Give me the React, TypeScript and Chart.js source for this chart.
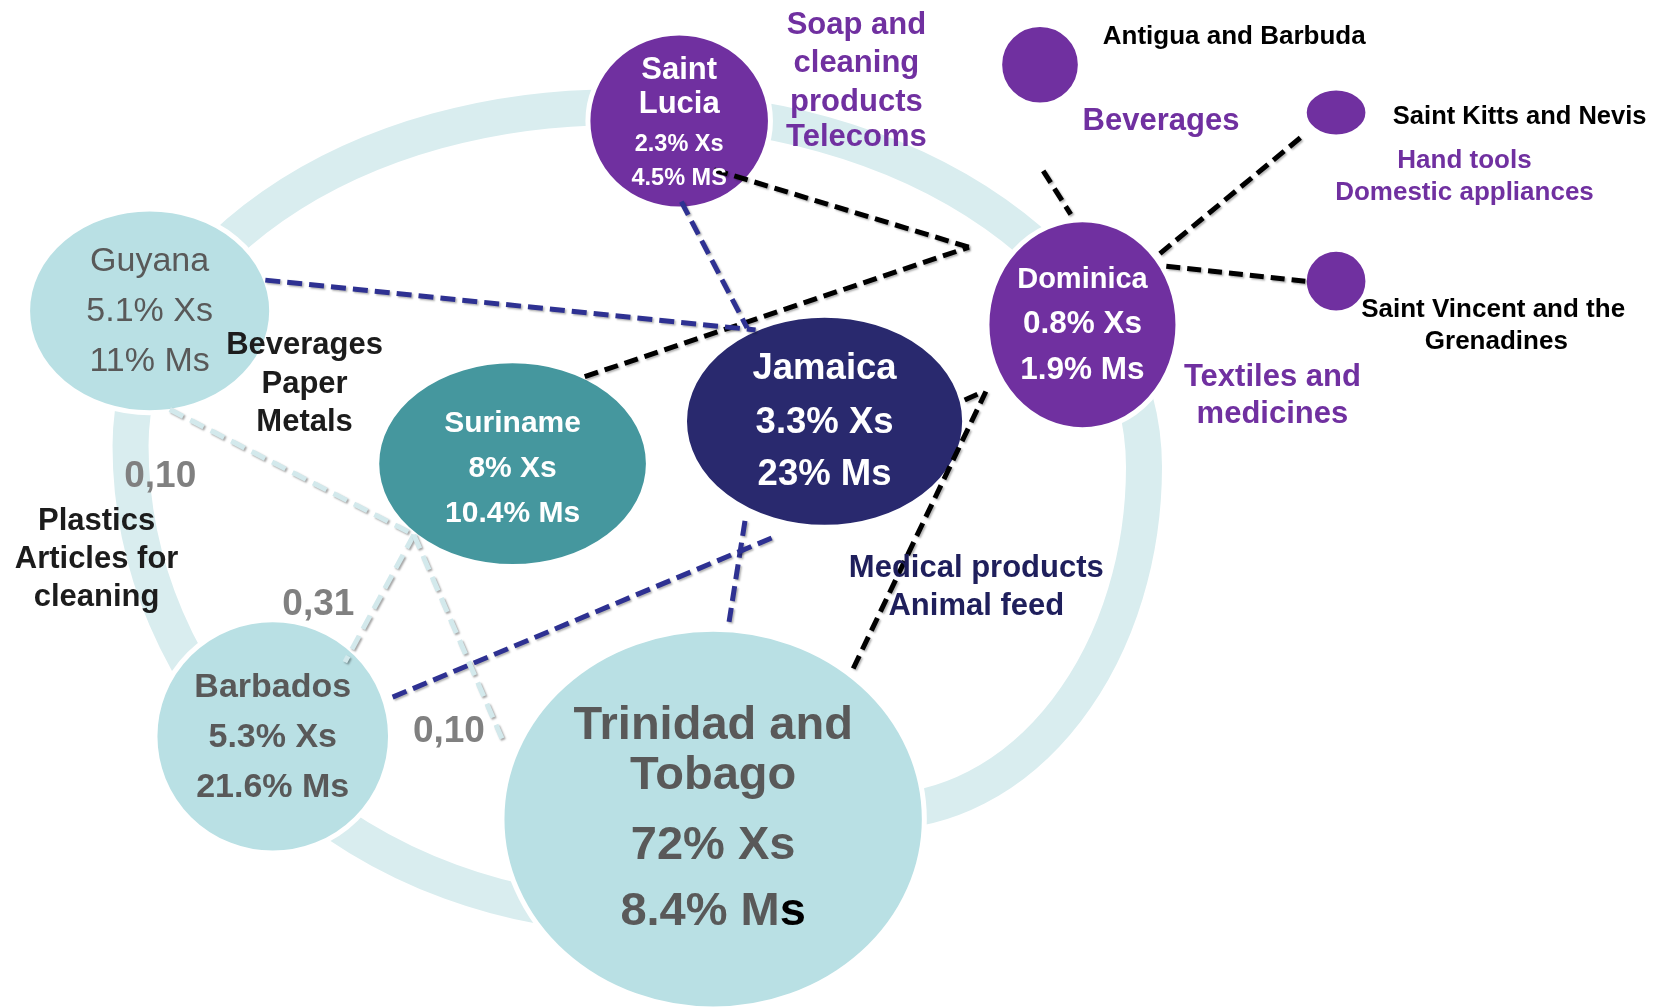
import React, { useEffect, useRef } from 'react';
import { Chart, registerables } from 'chart.js';

Chart.register(...registerables);

// ---------------- data ----------------
const countries = [
  'Saint Lucia', 'Guyana', 'Suriname', 'Jamaica', 'Dominica',
  'Antigua and Barbuda', 'Saint Kitts and Nevis', 'Saint Vincent and the Grenadines',
  'Barbados', 'Trinidad and Tobago',
];
const exportShares = ['2.3% Xs', '5.1% Xs', '8% Xs', '3.3% Xs', '0.8% Xs', '', '', '', '5.3% Xs', '72% Xs'];
const importShares = ['4.5% MS', '11% Ms', '10.4% Ms', '23% Ms', '1.9% Ms', '', '', '', '21.6% Ms', '8.4% Ms'];

const productGroups = [
  ['Beverages', 'Paper', 'Metals'],
  ['Plastics', 'Articles for', 'cleaning'],
  ['Soap and', 'cleaning', 'products', 'Telecoms'],
  ['Beverages'],
  ['Hand tools', 'Domestic appliances'],
  ['Textiles and', 'medicines'],
  ['Medical products', 'Animal feed'],
];
const flowValues = ['0,10', '0,31', '0,10'];

// link end points in diagram space
const blackLinks = [
  [{ x: 673, y: 160 }, { x: 913, y: 233 }],
  [{ x: 551, y: 355 }, { x: 913, y: 233 }],
  [{ x: 983, y: 161 }, { x: 1009, y: 202 }],
  [{ x: 1093, y: 239 }, { x: 1230, y: 126 }],
  [{ x: 1099, y: 251 }, { x: 1230, y: 265 }],
  [{ x: 909, y: 377 }, { x: 927, y: 369 }],
  [{ x: 804, y: 630 }, { x: 929, y: 369 }],
];
const navyLinks = [
  [{ x: 250, y: 264 }, { x: 712, y: 311 }],
  [{ x: 642, y: 190 }, { x: 704, y: 309 }],
  [{ x: 370, y: 657 }, { x: 732, y: 505 }],
  [{ x: 702, y: 491 }, { x: 687, y: 586 }],
];
const lightLinks = [
  [{ x: 160, y: 386 }, { x: 390, y: 504 }],
  [{ x: 390, y: 504 }, { x: 476, y: 703 }],
  [{ x: 390, y: 504 }, { x: 325, y: 624 }],
];

// ---------------- layout ----------------
const PURPLE = '#7030a0';
const NAVY = '#29296e';
const TEAL = '#45979e';
const LIGHT = '#b9e0e4';
const RINGC = '#d9edef';
const GRAY = '#595959';
const FONT = '"Liberation Sans", Arial, sans-serif';
const TEXT_DY = 2;

// background ring, drawn as four elliptical quarters (joins are hidden under the nodes)
const ringQuarters = [
  { cx: 580, cy: 420, rx: 457, ry: 319, a0: Math.PI, a1: Math.PI * 1.5 },
  { cx: 600, cy: 440, rx: 478, ry: 337, a0: Math.PI * 1.5, a1: Math.PI * 2 },
  { cx: 828, cy: 440, rx: 250, ry: 325, a0: 0, a1: Math.PI * 0.5 },
  { cx: 600, cy: 420, rx: 477, ry: 442, a0: Math.PI * 0.5, a1: Math.PI },
];
const RING_WIDTH = 36;

const nodeGeom = [
  { cx: 640, cy: 114, rx: 86, ry: 83 },
  { cx: 141, cy: 293, rx: 115, ry: 96 },
  { cx: 483, cy: 437, rx: 128, ry: 97 },
  { cx: 777, cy: 397, rx: 132, ry: 100 },
  { cx: 1020, cy: 306, rx: 90, ry: 99 },
  { cx: 980, cy: 61, rx: 38, ry: 38 },
  { cx: 1259, cy: 106, rx: 30, ry: 23 },
  { cx: 1259, cy: 265, rx: 30, ry: 30 },
  { cx: 257, cy: 694, rx: 111, ry: 110 },
  { cx: 672, cy: 772, rx: 199, ry: 179 },
];
const nodeStyle = [
  { fill: PURPLE, color: '#fff', weight: 'bold', names: ['Saint', 'Lucia'], ys: [64, 96, 134, 166], sizes: [31, 31, 23.5, 23.5] },
  { fill: LIGHT, color: GRAY, weight: 'normal', names: ['Guyana'], ys: [245, 292, 339], sizes: [34, 34, 34] },
  { fill: TEAL, color: '#fff', weight: 'bold', names: ['Suriname'], ys: [397, 440, 482], sizes: [30, 30, 30] },
  { fill: NAVY, color: '#fff', weight: 'bold', names: ['Jamaica'], ys: [346, 397, 446], sizes: [36.5, 36.5, 36.5] },
  { fill: PURPLE, color: '#fff', weight: 'bold', names: ['Dominica'], ys: [262, 304, 347], sizes: [29, 31.5, 31.5] },
  { fill: PURPLE, names: [] },
  { fill: PURPLE, names: [] },
  { fill: PURPLE, names: [] },
  { fill: LIGHT, color: GRAY, weight: 'bold', names: ['Barbados'], ys: [646, 693, 740], sizes: [34, 34, 34] },
  { fill: LIGHT, color: GRAY, weight: 'bold', names: ['Trinidad and', 'Tobago'], ys: [682, 729, 795, 858], sizes: [47, 47, 47, 47], tail: '#000' },
];
const outerLabels = [
  { node: 5, lines: ['Antigua and Barbuda'], xs: [1163], ys: [33], size: 26 },
  { node: 6, lines: ['Saint Kitts and Nevis'], xs: [1432], ys: [108], size: 25.5 },
  { node: 7, lines: ['Saint Vincent and the', 'Grenadines'], xs: [1407, 1410], ys: [290, 320], size: 26 },
];
const productLayout = [
  { x: 287, ys: [324, 360, 396], size: 31, color: '#1c1c1c' },
  { x: 91, ys: [489, 525, 561], size: 31, color: '#1c1c1c' },
  { x: 807, ys: [22, 58, 95, 128], size: 31, color: PURPLE },
  { x: 1094, ys: [112], size: 31, color: PURPLE },
  { x: 1380, ys: [150, 180], size: 26, color: PURPLE },
  { x: 1199, ys: [354, 389], size: 31, color: PURPLE },
  { x: 920, ys: [534, 570], size: 31, color: '#1f1f5c' },
];
const flowLayout = [
  { x: 151, y: 447 },
  { x: 300, y: 568 },
  { x: 423, y: 688 },
];

const diagramPlugin = {
  id: 'diagram',
  beforeDatasetsDraw(chart: any) {
    const { ctx } = chart;
    const sx = chart.scales.x;
    const sy = chart.scales.y;
    const px = (v: number) => sx.getPixelForValue(v);
    const py = (v: number) => sy.getPixelForValue(v);
    const rX = (c: number, r: number) => Math.abs(px(c + r) - px(c));
    const rY = (c: number, r: number) => Math.abs(py(c + r) - py(c));
    ctx.save();
    // ring
    ctx.beginPath();
    ringQuarters.forEach((q) => {
      ctx.ellipse(px(q.cx), py(q.cy), rX(q.cx, q.rx), rY(q.cy, q.ry), 0, q.a0, q.a1);
    });
    ctx.closePath();
    ctx.lineWidth = RING_WIDTH;
    ctx.lineJoin = 'round';
    ctx.strokeStyle = RINGC;
    ctx.stroke();
    // nodes
    nodeGeom.forEach((g, i) => {
      ctx.beginPath();
      ctx.ellipse(px(g.cx), py(g.cy), rX(g.cx, g.rx), rY(g.cy, g.ry), 0, 0, Math.PI * 2);
      ctx.fillStyle = nodeStyle[i].fill;
      ctx.fill();
      ctx.lineWidth = 5;
      ctx.strokeStyle = '#ffffff';
      ctx.stroke();
    });
    ctx.restore();
  },
  beforeDatasetDraw(chart: any, args: any) {
    const ctx = chart.ctx;
    ctx.save();
    const ds = chart.data.datasets[args.index];
    ctx.shadowColor = ds.shadow || 'rgba(0,0,0,0.3)';
    ctx.shadowOffsetX = 1.5;
    ctx.shadowOffsetY = 1.5;
    ctx.shadowBlur = 2;
  },
  afterDatasetDraw(chart: any) {
    chart.ctx.restore();
  },
  afterDatasetsDraw(chart: any) {
    const { ctx } = chart;
    const sx = chart.scales.x;
    const sy = chart.scales.y;
    const px = (v: number) => sx.getPixelForValue(v);
    const py = (v: number) => sy.getPixelForValue(v + TEXT_DY);
    const text = (t: string, x: number, y: number, size: number, color: string, weight = 'bold') => {
      ctx.font = `${weight} ${size}px ${FONT}`;
      ctx.fillStyle = color;
      ctx.textAlign = 'center';
      ctx.textBaseline = 'middle';
      ctx.fillText(t, px(x), py(y));
    };
    ctx.save();
    countries.forEach((_, i) => {
      const st: any = nodeStyle[i];
      if (!st.names.length) return;
      const g = nodeGeom[i];
      const lines = [...st.names, exportShares[i], importShares[i]];
      lines.forEach((t: string, k: number) => {
        if (st.tail && k === lines.length - 1) {
          ctx.font = `${st.weight} ${st.sizes[k]}px ${FONT}`;
          const head = t.slice(0, -1);
          const last = t.slice(-1);
          const w1 = ctx.measureText(head).width;
          const w2 = ctx.measureText(last).width;
          const left = px(g.cx) - (w1 + w2) / 2;
          ctx.textAlign = 'left';
          ctx.textBaseline = 'middle';
          ctx.fillStyle = st.color;
          ctx.fillText(head, left, py(st.ys[k]));
          ctx.fillStyle = st.tail;
          ctx.fillText(last, left + w1, py(st.ys[k]));
        } else {
          text(t, g.cx, st.ys[k], st.sizes[k], st.color, st.weight);
        }
      });
    });
    outerLabels.forEach((l) => {
      l.lines.forEach((t, k) => text(t, l.xs[k], l.ys[k], l.size, '#000'));
    });
    productGroups.forEach((grp, i) => {
      const l = productLayout[i];
      grp.forEach((t, k) => text(t, l.x, l.ys[k], l.size, l.color));
    });
    flowValues.forEach((t, i) => text(t, flowLayout[i].x, flowLayout[i].y, 37, '#808080'));
    ctx.restore();
  },
};

export default function App() {
  const ref = useRef<HTMLCanvasElement | null>(null);
  useEffect(() => {
    if (!ref.current) return;
    const lineDs = (pts: any[], color: string, dash: number[], shadow?: string) => ({
      type: 'line' as const,
      data: pts,
      borderColor: color,
      borderWidth: 5,
      borderDash: dash,
      borderCapStyle: 'butt' as const,
      pointRadius: 0,
      fill: false,
      tension: 0,
      shadow,
    });
    const datasets: any[] = [
      ...lightLinks.map((p) => lineDs(p, '#d3e9ec', [15, 8], 'rgba(0,0,0,0.35)')),
      ...navyLinks.map((p) => lineDs(p, '#2e3192', [15, 7])),
      ...blackLinks.map((p) => lineDs(p, '#000000', [14, 7])),
    ];
    const chart = new Chart(ref.current, {
      type: 'line',
      data: { datasets },
      options: {
        animation: false,
        responsive: false,
        maintainAspectRatio: false,
        devicePixelRatio: 1,
        events: [],
        layout: { padding: 0 },
        plugins: { legend: { display: false }, tooltip: { enabled: false } },
        scales: {
          x: { type: 'linear', min: 0, max: 1568, display: false },
          y: { type: 'linear', min: 0, max: 950, reverse: true, display: false },
        },
      },
      plugins: [diagramPlugin],
    } as any);
    return () => chart.destroy();
  }, []);
  return (
    <div style={{ position: 'fixed', left: 0, top: 0, width: 1664, height: 1008, background: '#fff' }}>
      <canvas ref={ref} width={1664} height={1008} style={{ display: 'block' }} />
    </div>
  );
}
